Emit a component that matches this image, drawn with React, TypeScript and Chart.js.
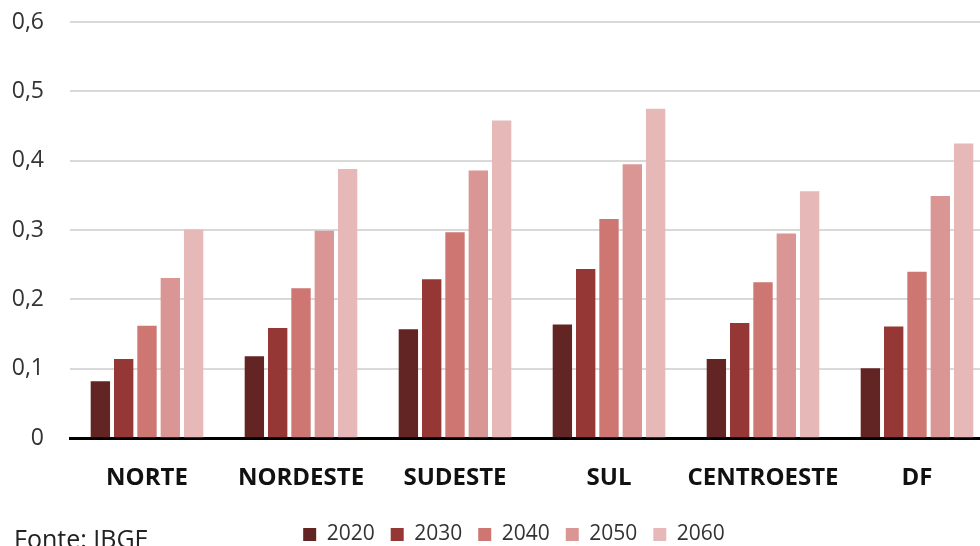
import React, { useEffect, useRef } from "react";
import { Chart, registerables } from "chart.js";

Chart.register(...registerables);

const categories = ["NORTE", "NORDESTE", "SUDESTE", "SUL", "CENTROESTE", "DF"];
const years = ["2020", "2030", "2040", "2050", "2060"];
const values2020 = [0.082, 0.118, 0.157, 0.164, 0.114, 0.101];
const values2030 = [0.114, 0.159, 0.229, 0.244, 0.166, 0.161];
const values2040 = [0.162, 0.216, 0.297, 0.316, 0.225, 0.240];
const values2050 = [0.231, 0.299, 0.386, 0.395, 0.295, 0.349];
const values2060 = [0.301, 0.388, 0.458, 0.475, 0.356, 0.425];
const seriesValues = [values2020, values2030, values2040, values2050, values2060];
const colors = ["#632523", "#953735", "#CD7672", "#D99694", "#E6B9B8"];
const sourceNote = "Fonte: IBGE";

const FONT = "'Open Sans', 'Noto Sans', sans-serif";

const legendShift = {
  id: "legendShift",
  afterLayout(chart: any) {
    if (chart.legend) {
      chart.legend.left += 17;
      chart.legend.right += 17;
      chart.legend.top -= 11;
      chart.legend.bottom -= 11;
    }
  },
};

export default function App() {
  const ref = useRef<HTMLCanvasElement | null>(null);

  useEffect(() => {
    if (!ref.current) return;
    const chart = new Chart(ref.current, {
      type: "bar",
      data: {
        labels: categories,
        datasets: years.map((y, i) => ({
          label: y,
          data: seriesValues[i],
          backgroundColor: colors[i],
          borderWidth: 0,
          categoryPercentage: 0.757,
          barPercentage: 0.83,
        })),
      },
      plugins: [legendShift],
      options: {
        responsive: false,
        animation: false,
        devicePixelRatio: 1,
        layout: { padding: { top: 22, left: 0, right: 26, bottom: -20 } },
        plugins: {
          tooltip: { enabled: false },
          legend: {
            position: "bottom",
            labels: {
              boxWidth: 13,
              boxHeight: 13,
              padding: 16,
              color: "#333",
              font: { family: FONT, size: 21 },
            },
          },
        },
        scales: {
          x: {
            grid: { display: false, drawTicks: false },
            border: { display: true, color: "#000", width: 3 },
            ticks: {
              padding: 26,
              maxRotation: 0,
              minRotation: 0,
              autoSkip: false,
              color: "#111",
              font: { family: FONT, size: 24, weight: "bold" },
            },
          },
          y: {
            min: 0,
            max: 0.6,
            afterFit: (s: any) => {
              s.width = 70;
              s.paddingTop = 14;
              s.paddingBottom = 14;
            },
            grid: { color: "#d9d9d9", lineWidth: 2, drawTicks: false },
            border: { display: false },
            ticks: {
              stepSize: 0.1,
              padding: 26,
              color: "#333",
              font: { family: FONT, size: 23 },
              callback: (v: any) => {
                const n = Number(v);
                if (n === 0) return "0";
                return n.toFixed(1).replace(".", ",");
              },
            },
          },
        },
      },
    });
    return () => chart.destroy();
  }, []);

  return (
    <div
      style={{
        position: "fixed",
        left: 0,
        top: 0,
        width: 980,
        height: 546,
        overflow: "hidden",
        background: "#fff",
      }}
    >
      <canvas
        ref={ref}
        width={1020}
        height={546}
        style={{ position: "absolute", left: 0, top: 0, width: 1020, height: 546 }}
      />
      <div
        style={{
          position: "absolute",
          left: 14,
          top: 526,
          fontFamily: FONT,
          fontSize: 25,
          lineHeight: "25px",
          color: "#222",
          whiteSpace: "nowrap",
        }}
      >
        {sourceNote}
      </div>
    </div>
  );
}
